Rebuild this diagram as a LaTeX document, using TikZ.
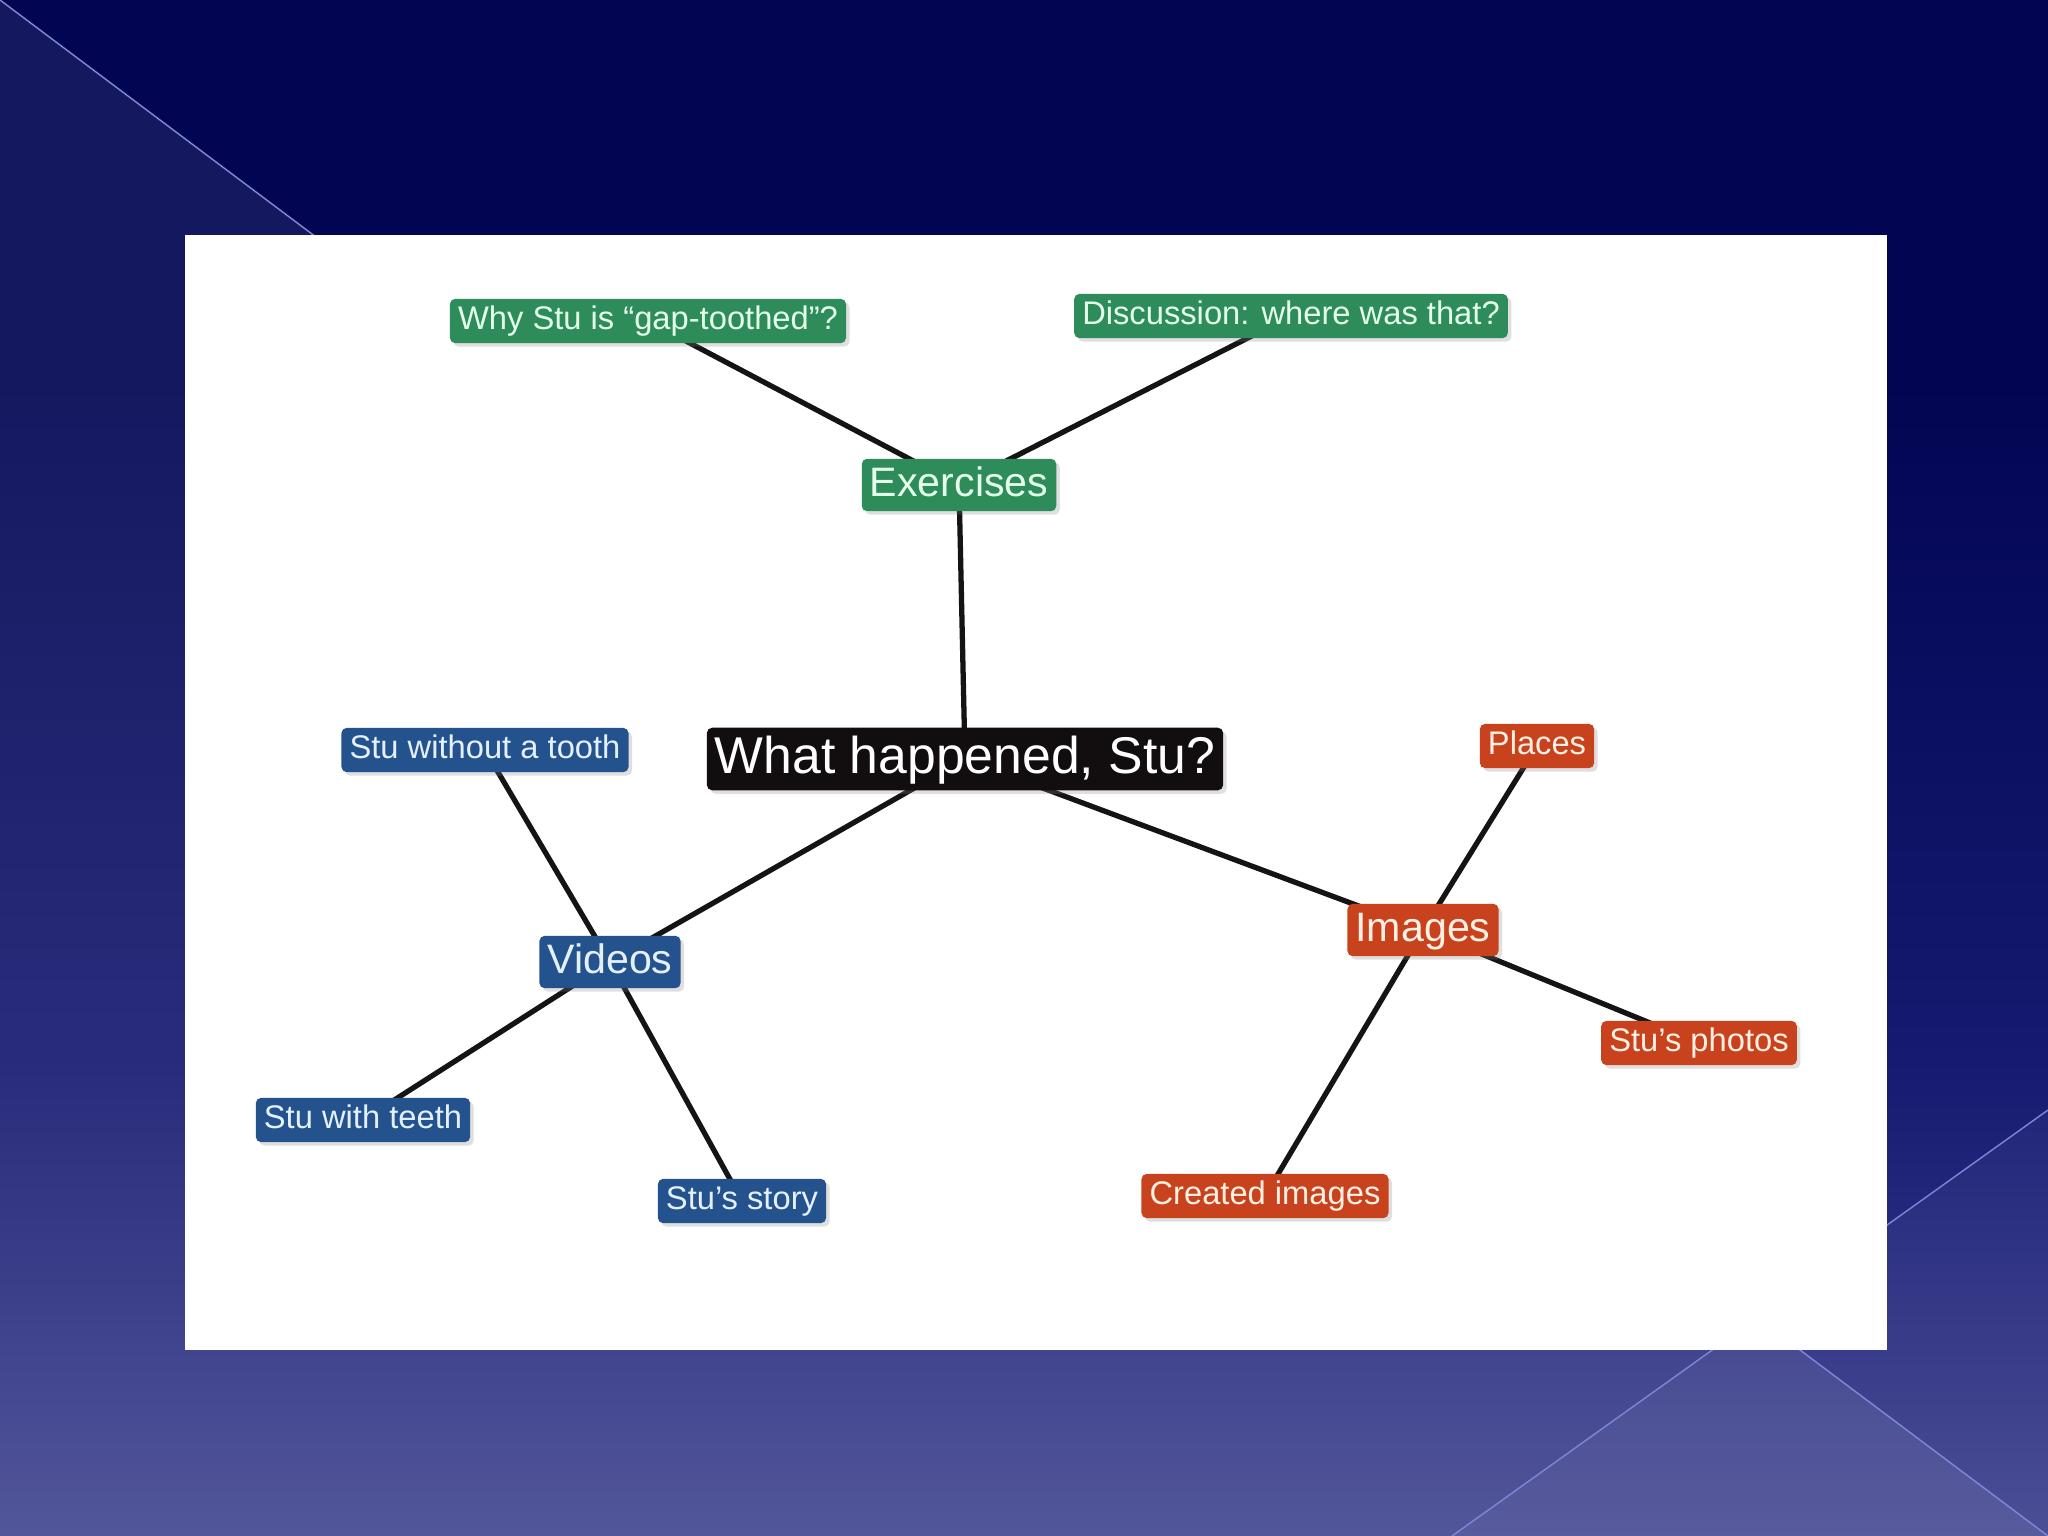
\documentclass[tikz,border=0pt]{standalone}
\usepackage{fontspec}
\setmainfont{Liberation Sans}
\usetikzlibrary{shadows}

\definecolor{slidetop}{RGB}{1,5,82}
\definecolor{slidemid}{RGB}{22,26,112}
\definecolor{slidelow}{RGB}{44,48,130}
\definecolor{slidebot}{RGB}{68,72,145}
\definecolor{slideline}{RGB}{125,135,215}
\definecolor{mapgreen}{RGB}{45,140,90}
\definecolor{mapgreentext}{RGB}{228,255,234}
\definecolor{mapblue}{RGB}{36,82,140}
\definecolor{mapbluetext}{RGB}{228,240,255}
\definecolor{mapred}{RGB}{200,66,30}
\definecolor{mapredtext}{RGB}{255,240,228}
\definecolor{hubblack}{RGB}{18,14,16}

\pgfdeclarelayer{slide}
\pgfdeclarelayer{links}
\pgfsetlayers{slide,links,main}

\tikzset{
  topic/.style={rectangle, rounded corners=1.5pt, inner xsep=2.3pt, inner ysep=1.7pt,
    drop shadow={shadow xshift=1pt, shadow yshift=-1pt, opacity=0.25}},
  hub/.style={topic, fill=hubblack, text=white, font=\fontsize{14.7}{17}\selectfont,
    text height=11.2pt, text depth=3.2pt},
  branch/.style={topic, font=\fontsize{11.7}{14}\selectfont, text height=8.9pt, text depth=2.6pt},
  leaf/.style={topic, font=\fontsize{9.3}{11}\selectfont, text height=7.1pt, text depth=2.1pt},
  greenbox/.style={fill=mapgreen, text=mapgreentext},
  bluebox/.style={fill=mapblue, text=mapbluetext},
  redbox/.style={fill=mapred, text=mapredtext},
  link/.style={line width=1.5pt, black!92}
}

\begin{document}
\begin{tikzpicture}[x=0.01cm, y=-0.01cm]
    \useasboundingbox (0,0) rectangle (2048,1536);

    % slide background
    \begin{pgfonlayer}{slide}
      \fill[slidetop] (0,0) rectangle (2048,381);
      \shade[top color=slidetop, bottom color=slidemid] (0,380) rectangle (2048,1061);
      \shade[top color=slidemid, bottom color=slidelow] (0,1060) rectangle (2048,1301);
      \shade[top color=slidelow, bottom color=slidebot] (0,1300) rectangle (2048,1536);
      \fill[white, opacity=0.08] (0,0) -- (2048,1536) -- (0,1536) -- cycle;
      \fill[white, opacity=0.04] (2048,1110) -- (2048,1536) -- (1452,1536) -- cycle;
      \draw[slideline, line width=0.4pt] (0,0) -- (2048,1536);
      \draw[slideline, line width=0.4pt] (2048,1110) -- (1452,1536);
      % white panel
      \fill[white] (185,235) rectangle (1887,1350);
    \end{pgfonlayer}

    % central question
    \node[hub] (stu) at (965,759) {What happened, Stu?};

    % Exercises branch
    \node[branch, greenbox] (exer) at (959,485) {Exercises};
    \node[leaf, greenbox] (why) at (648,321) {Why Stu is “gap-toothed”?};
    \node[leaf, greenbox] (disc) at (1291,316) {Discussion: where was that?};

    % Videos branch
    \node[branch, bluebox] (videos) at (610,962) {Videos};
    \node[leaf, bluebox] (tooth) at (485,750) {Stu without a tooth};
    \node[leaf, bluebox] (teeth) at (363,1120) {Stu with teeth};
    \node[leaf, bluebox] (story) at (742,1201) {Stu's story};

    % Images branch
    \node[branch, redbox] (images) at (1423,930) {Images};
    \node[leaf, redbox] (places) at (1537,746) {Places};
    \node[leaf, redbox] (photos) at (1699,1043) {Stu's photos};
    \node[leaf, redbox] (created) at (1265,1196) {Created images};

    % connectors
    \begin{pgfonlayer}{links}
      \draw[link] (stu.center) -- (exer.center);
      \draw[link] (exer.center) -- (why.center);
      \draw[link] (exer.center) -- (disc.center);
      \draw[link] (stu.center) -- (videos.center);
      \draw[link] (videos.center) -- (tooth.center);
      \draw[link] (videos.center) -- (teeth.center);
      \draw[link] (videos.center) -- (story.center);
      \draw[link] (stu.center) -- (images.center);
      \draw[link] (images.center) -- (places.center);
      \draw[link] (images.center) -- (photos.center);
      \draw[link] (images.center) -- (created.center);
    \end{pgfonlayer}
\end{tikzpicture}
\end{document}
